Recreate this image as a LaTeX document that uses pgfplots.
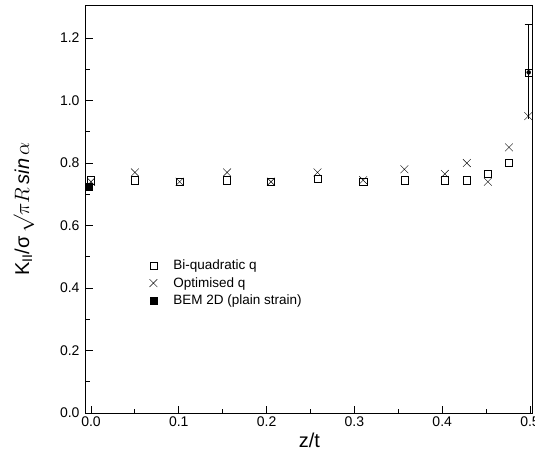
\documentclass[border=0pt]{standalone}
\usepackage{pgfplots}
\pgfplotsset{compat=1.18}
\usepackage{fontspec}
\setmainfont{Liberation Sans}
\usepackage{amsmath}

\begin{document}
\begin{tikzpicture}
\begin{axis}[
    scale only axis,
    width=447pt,
    height=408pt,
    xmin=-0.0057, xmax=0.5034,
    ymin=0, ymax=1.3056,
    xtick={0,0.1,...,0.5},
    ytick={0,0.2,...,1.2},
    minor xtick={0.05,0.15,...,0.45},
    minor ytick={0.1,0.3,...,1.1},
    xtick pos=left, ytick pos=left,
    tick align=inside,
    major tick length=7pt,
    minor tick length=4pt,
    every tick/.style={black, line width=1pt},
    axis line style={line width=1pt},
    /pgf/number format/.cd, fixed, fixed zerofill, precision=1, assume math mode=true,
    /pgfplots/.cd,
    tick label style={font=\fontsize{14}{16}\selectfont},
    yticklabel style={xshift=-3pt},
    xlabel={z/t},
    ylabel={K$_{\text{II}}$/σ\,$\surd\pi R\,\mathit{sin}\,\alpha$},
    label style={font=\fontsize{20}{24}\selectfont},
    ylabel style={at={(rel axis cs:-0.108,0.5)}, anchor=south},
    legend style={at={(rel axis cs:0.135,0.385)}, anchor=north west, draw=none, fill=none,
        font=\fontsize{13.5}{16}\selectfont, row sep=2pt, column sep=14pt},
    legend cell align=left,
    clip=false,
]
\coordinate (bbSW) at (rel axis cs:-0.1924,-0.125);
\coordinate (bbNE) at (rel axis cs:1.0045,1.0123);

% Bi-quadratic q
\addplot[only marks, mark=square, mark size=3.6pt, black, thin] coordinates {
    (0.000,0.745) (0.050,0.745) (0.101,0.740) (0.155,0.745) (0.205,0.740)
    (0.258,0.750) (0.310,0.740) (0.357,0.745) (0.403,0.745) (0.428,0.745)
    (0.452,0.765) (0.476,0.800)
};
\addlegendentry{Bi-quadratic q}

% Optimised q
\addplot[only marks, mark=x, mark size=5.5pt, black, thin] coordinates {
    (0.000,0.740) (0.050,0.770) (0.101,0.740) (0.155,0.770) (0.205,0.740)
    (0.258,0.770) (0.310,0.745) (0.357,0.780) (0.403,0.765) (0.428,0.800)
    (0.452,0.740) (0.476,0.850) (0.498,0.950)
};
\addlegendentry{Optimised q}

% BEM 2D
\addplot[only marks, mark=square*, mark size=3.6pt, black] coordinates {
    (-0.003,0.725)
};
\addlegendentry{BEM 2D (plain strain)}

% last Bi-quadratic point with its error bar
\addplot[forget plot, only marks, mark=none,
    error bars/.cd, y dir=minus, y explicit,
    error bar style={black, thin}, error mark=none]
    coordinates {(0.4985,1.090) +- (0,0.15)};
\addplot[forget plot, only marks, mark=square, mark size=3.6pt, black, thin,
    error bars/.cd, y dir=plus, y explicit,
    error bar style={black, thin},
    error mark options={rotate=90, mark size=4pt, black, thin}]
    coordinates {(0.4985,1.090) +- (0,0.155)};
\end{axis}
\pgfresetboundingbox
\useasboundingbox (bbSW) rectangle (bbNE);
\end{tikzpicture}
\end{document}
